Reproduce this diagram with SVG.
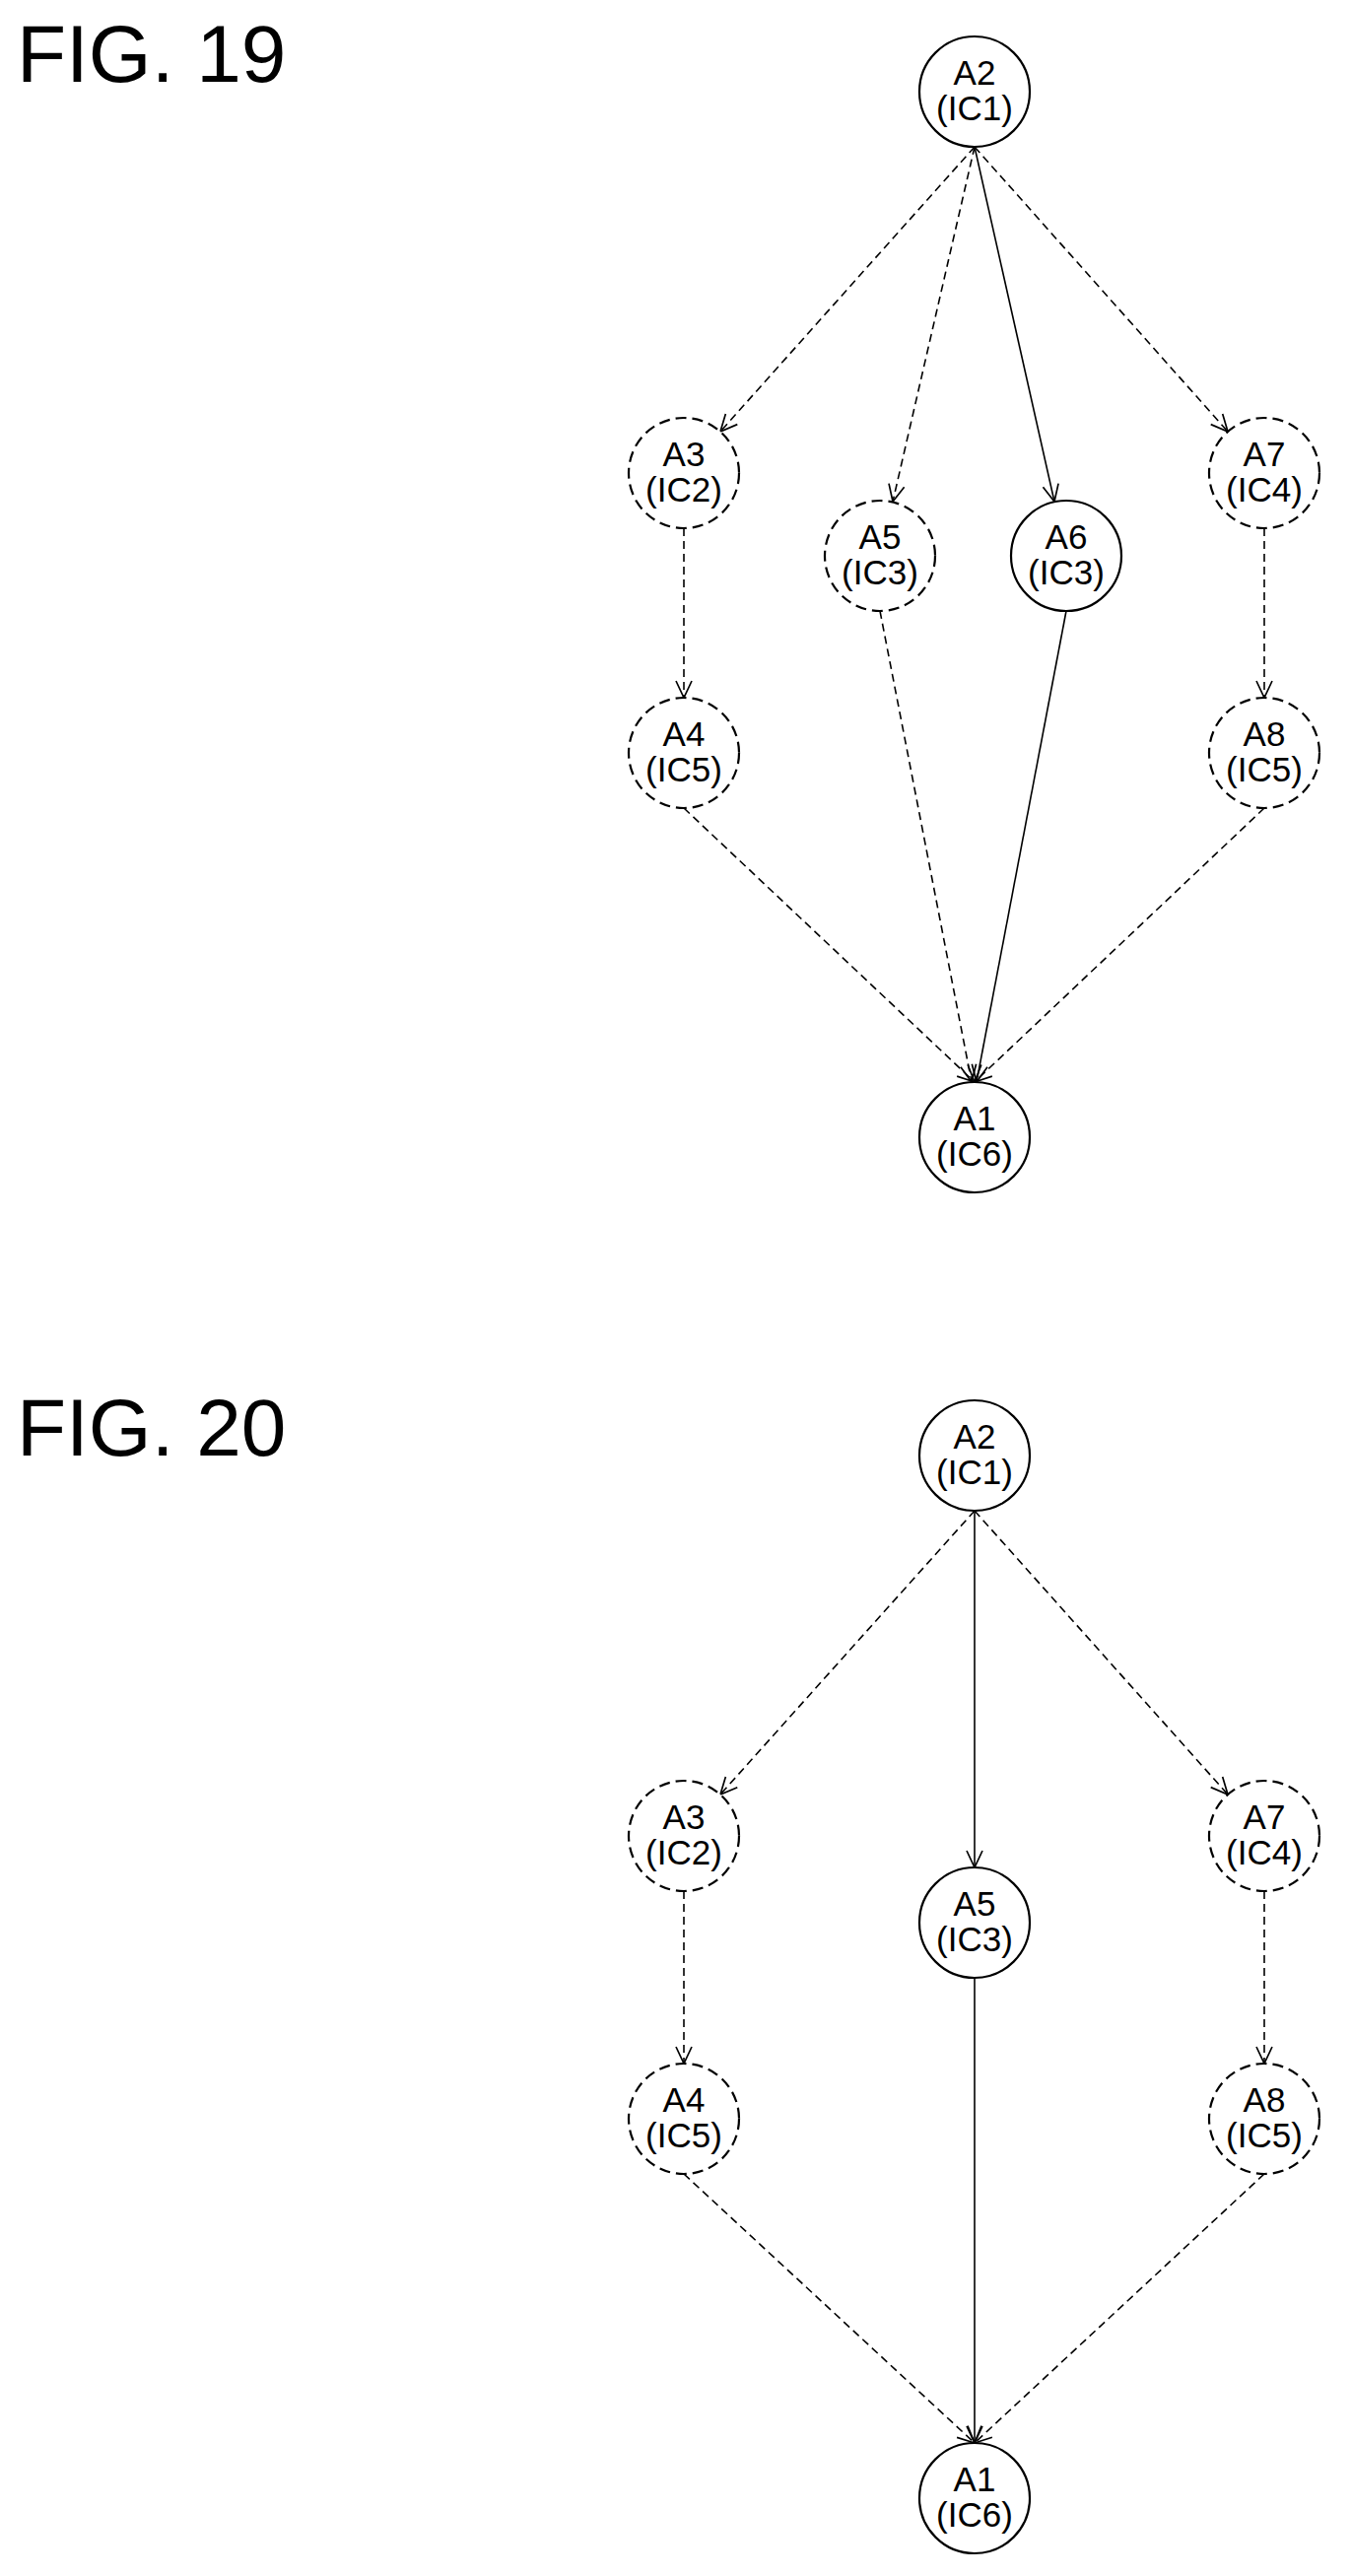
<svg xmlns="http://www.w3.org/2000/svg" width="1371" height="2614" viewBox="0 0 1371 2614">
<style>
.n{fill:#fff;stroke:#000;stroke-width:2.2}
.d{stroke-dasharray:11 6}
.t{font-family:"Liberation Sans",Arial,sans-serif;font-size:35px;text-anchor:middle;fill:#000}
.fig{font-family:"Liberation Sans",Arial,sans-serif;font-size:82px;fill:#000}
.e{stroke:#000;stroke-width:1.6;fill:none;marker-end:url(#ah)}
.ed{stroke-dasharray:8 5}
</style>
<defs>
<marker id="ah" markerWidth="24" markerHeight="24" refX="19" refY="10" orient="auto" markerUnits="userSpaceOnUse">
<path d="M2,2 L19,10 L2,18" fill="none" stroke="#000" stroke-width="1.7"/>
</marker>
</defs>
<rect width="1371" height="2614" fill="#fff"/>
<text class="fig" x="17" y="83">FIG. 19</text>
<text class="fig" x="17" y="1477">FIG. 20</text>
<g id="connectors">
<line class="e ed" x1="989" y1="149" x2="731" y2="438"/>
<line class="e ed" x1="989" y1="149" x2="906" y2="509"/>
<line class="e" x1="989" y1="149" x2="1070" y2="509"/>
<line class="e ed" x1="989" y1="149" x2="1246" y2="438"/>
<line class="e ed" x1="694" y1="536" x2="694" y2="708"/>
<line class="e ed" x1="1283" y1="536" x2="1283" y2="708"/>
<line class="e ed" x1="694" y1="820" x2="989" y2="1098"/>
<line class="e ed" x1="893" y1="620" x2="986" y2="1098"/>
<line class="e" x1="1082" y1="620" x2="991" y2="1098"/>
<line class="e ed" x1="1283" y1="820" x2="989" y2="1098"/>
<line class="e ed" x1="989" y1="1533" x2="731" y2="1821"/>
<line class="e" x1="989" y1="1533" x2="989" y2="1895"/>
<line class="e ed" x1="989" y1="1533" x2="1246" y2="1821"/>
<line class="e ed" x1="694" y1="1919" x2="694" y2="2094"/>
<line class="e ed" x1="1283" y1="1919" x2="1283" y2="2094"/>
<line class="e ed" x1="694" y1="2206" x2="989" y2="2479"/>
<line class="e" x1="989" y1="2007" x2="989" y2="2479"/>
<line class="e ed" x1="1283" y1="2206" x2="989" y2="2479"/>
</g>
<g id="f19_A2"><circle class="n" cx="989" cy="93" r="56"/><text class="t" x="989" y="86">A2</text><text class="t" x="989" y="122">(IC1)</text></g>
<g id="f19_A3"><circle class="n d" cx="694" cy="480" r="56"/><text class="t" x="694" y="473">A3</text><text class="t" x="694" y="509">(IC2)</text></g>
<g id="f19_A5"><circle class="n d" cx="893" cy="564" r="56"/><text class="t" x="893" y="557">A5</text><text class="t" x="893" y="593">(IC3)</text></g>
<g id="f19_A6"><circle class="n" cx="1082" cy="564" r="56"/><text class="t" x="1082" y="557">A6</text><text class="t" x="1082" y="593">(IC3)</text></g>
<g id="f19_A7"><circle class="n d" cx="1283" cy="480" r="56"/><text class="t" x="1283" y="473">A7</text><text class="t" x="1283" y="509">(IC4)</text></g>
<g id="f19_A4"><circle class="n d" cx="694" cy="764" r="56"/><text class="t" x="694" y="757">A4</text><text class="t" x="694" y="793">(IC5)</text></g>
<g id="f19_A8"><circle class="n d" cx="1283" cy="764" r="56"/><text class="t" x="1283" y="757">A8</text><text class="t" x="1283" y="793">(IC5)</text></g>
<g id="f19_A1"><circle class="n" cx="989" cy="1154" r="56"/><text class="t" x="989" y="1147">A1</text><text class="t" x="989" y="1183">(IC6)</text></g>
<g id="f20_A2"><circle class="n" cx="989" cy="1477" r="56"/><text class="t" x="989" y="1470">A2</text><text class="t" x="989" y="1506">(IC1)</text></g>
<g id="f20_A3"><circle class="n d" cx="694" cy="1863" r="56"/><text class="t" x="694" y="1856">A3</text><text class="t" x="694" y="1892">(IC2)</text></g>
<g id="f20_A5"><circle class="n" cx="989" cy="1951" r="56"/><text class="t" x="989" y="1944">A5</text><text class="t" x="989" y="1980">(IC3)</text></g>
<g id="f20_A7"><circle class="n d" cx="1283" cy="1863" r="56"/><text class="t" x="1283" y="1856">A7</text><text class="t" x="1283" y="1892">(IC4)</text></g>
<g id="f20_A4"><circle class="n d" cx="694" cy="2150" r="56"/><text class="t" x="694" y="2143">A4</text><text class="t" x="694" y="2179">(IC5)</text></g>
<g id="f20_A8"><circle class="n d" cx="1283" cy="2150" r="56"/><text class="t" x="1283" y="2143">A8</text><text class="t" x="1283" y="2179">(IC5)</text></g>
<g id="f20_A1"><circle class="n" cx="989" cy="2535" r="56"/><text class="t" x="989" y="2528">A1</text><text class="t" x="989" y="2564">(IC6)</text></g>
</svg>
